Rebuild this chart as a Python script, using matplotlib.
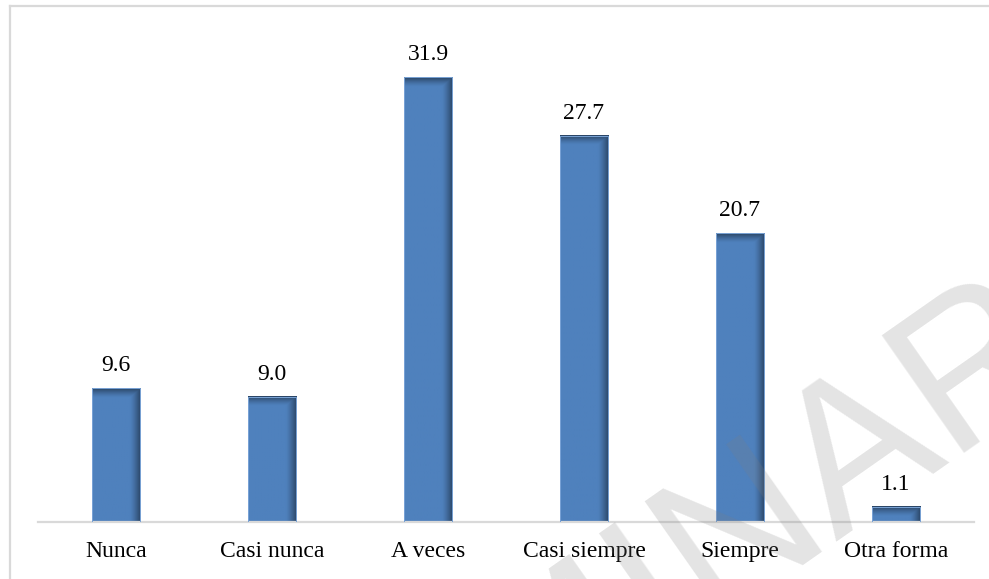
import numpy as np
import matplotlib.pyplot as plt
from matplotlib.lines import Line2D

categorias = ["Nunca", "Casi nunca", "A veces", "Casi siempre", "Siempre", "Otra forma"]
porcentajes = [9.6, 9.0, 31.9, 27.7, 20.7, 1.1]

azul = np.array([79, 129, 189]) / 255.0

plt.rcParams["font.family"] = ["Liberation Serif", "DejaVu Serif"]

fig = plt.figure(figsize=(9.89, 5.79), dpi=100)
ax = fig.add_axes([38 / 989, 1 - 522 / 579, 936 / 989, 488 / 579])

x = np.arange(len(categorias))
barras = ax.bar(x, porcentajes, width=0.31, color="none",
                edgecolor="#7aa3d6", linewidth=0.7, zorder=3)

ymax = 35
px_por_unidad = 488 / ymax

# relleno con sombra en el borde superior y derecho
for b in barras:
    x0, w, h = b.get_x(), b.get_width(), b.get_height()
    n_y = max(int(h * px_por_unidad), 2)
    n_x = 48
    xs = np.linspace(0, 1, n_x)
    ys = np.arange(n_y)  # px desde arriba
    fx = np.clip((xs - 0.78) / 0.22, 0, 1) ** 1.3
    fy = np.clip(1 - ys / 9.0, 0, 1) ** 1.3
    d = np.maximum(fx[None, :], fy[:, None])
    img = np.ones((n_y, n_x, 3)) * azul
    img = img * (1 - 0.45 * d[..., None])
    ax.imshow(img, extent=(x0, x0 + w, 0, h), aspect="auto",
              interpolation="bilinear", zorder=2, origin="upper")
    ax.text(x0 + w / 2, h + 1.22, f"{h:.1f}", ha="center", va="baseline",
            fontsize=17, color="black")

ax.set_xlim(-0.5, len(categorias) - 0.5)
ax.set_ylim(0, ymax)

ax.set_yticks([])
ax.set_xticks(x)
ax.set_xticklabels(categorias, fontsize=17)
ax.tick_params(axis="x", length=0, pad=14)
for lado in ["top", "right", "left"]:
    ax.spines[lado].set_visible(False)
ax.spines["bottom"].set_color("#d9d9d9")
ax.spines["bottom"].set_linewidth(1.6)

# marco del grafico (solo se ven el borde izquierdo y el superior)
fig.add_artist(Line2D([10 / 989, 10 / 989], [0, 1 - 6 / 579],
                      transform=fig.transFigure, color="#d9d9d9", lw=1.6))
fig.add_artist(Line2D([10 / 989, 1], [1 - 6 / 579, 1 - 6 / 579],
                      transform=fig.transFigure, color="#d9d9d9", lw=1.6))

# marca de agua
fig.text(28 / 989, 1 - 1096 / 579, "PRELIMINAR", rotation=35,
         rotation_mode="anchor", ha="left", va="baseline",
         fontsize=150, family="Liberation Sans", color="#7f7f7f", alpha=0.21,
         zorder=10)

fig.savefig("out.png", dpi=100)
